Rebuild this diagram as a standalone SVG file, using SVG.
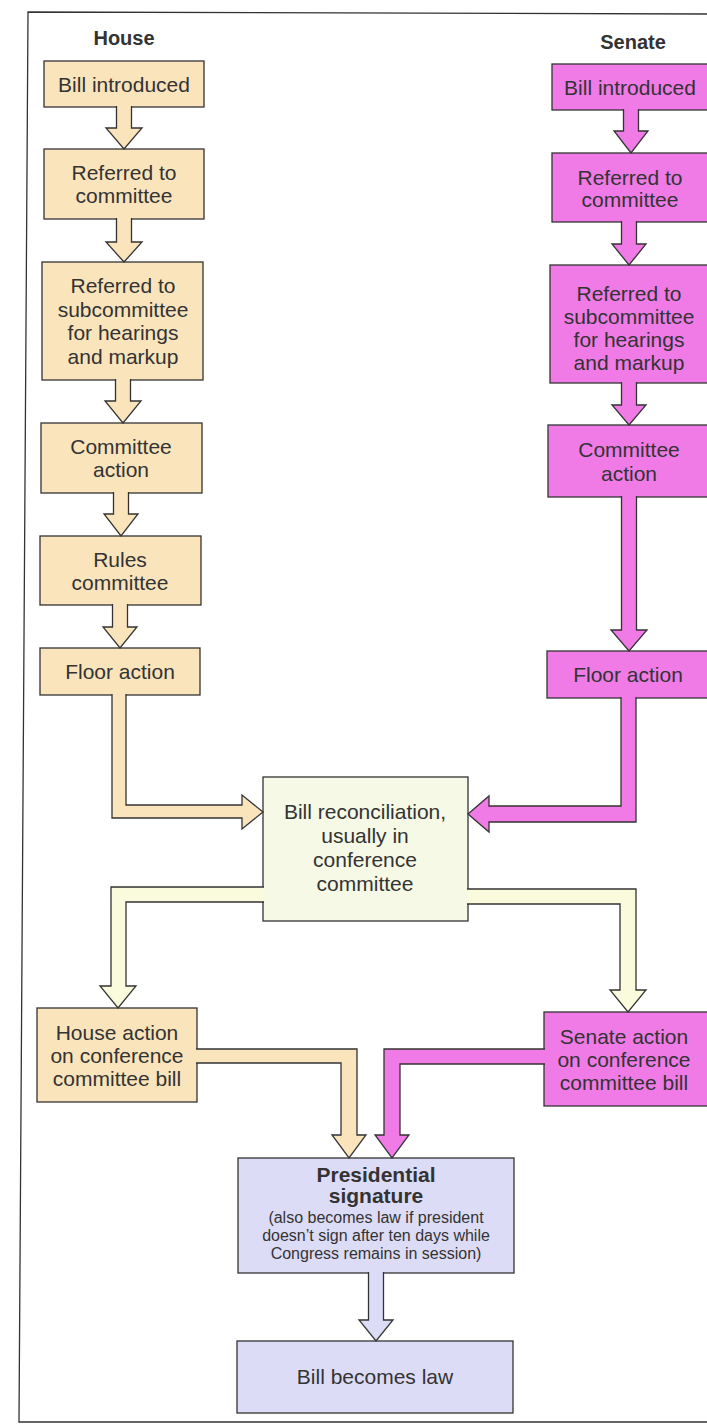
<svg xmlns="http://www.w3.org/2000/svg" width="707" height="1426" viewBox="0 0 707 1426">
<style>
  .frame{fill:none;stroke:#333;stroke-width:1.3}
  .box{stroke:#333;stroke-width:1.3}
  .house{fill:#fae4bc}
  .senate{fill:#f07be7}
  .recon{fill:#f5f9e5}
  .pres{fill:#dddcf6}
  .arr{stroke:#333;stroke-width:1.3;stroke-linejoin:miter}
  .ah{fill:#fae4bc}
  .as{fill:#f07be7}
  .ar{fill:#fafadd}
  .ap{fill:#dddcf6}
  text{font-family:"Liberation Sans",Arial,sans-serif;fill:#333;text-anchor:middle}
  .t{font-size:21px}
  .title{font-size:20px;font-weight:bold}
  .b{font-size:21px;font-weight:bold}
  .s{font-size:16px}
</style>
<rect x="0" y="0" width="707" height="1426" fill="#fff"/>
<path class="frame" d="M707,14 L28,12 L19,1422 L707,1422"/>

<g id="titles">
  <text class="title" x="124" y="45">House</text>
  <text class="title" x="633" y="49">Senate</text>
</g>

<g id="house-bill-introduced">
  <rect class="box house" x="44" y="61" width="160" height="46"/>
  <text class="t" x="124" y="92">Bill introduced</text>
</g>
<g id="house-referred-committee">
  <rect class="box house" x="44" y="149" width="160" height="70"/>
  <text class="t" x="124" y="180">Referred to</text>
  <text class="t" x="124" y="203">committee</text>
</g>
<g id="house-referred-subcommittee">
  <rect class="box house" x="42" y="262" width="161" height="118"/>
  <text class="t" x="123" y="293">Referred to</text>
  <text class="t" x="123" y="317">subcommittee</text>
  <text class="t" x="123" y="340">for hearings</text>
  <text class="t" x="123" y="364">and markup</text>
</g>
<g id="house-committee-action">
  <rect class="box house" x="41" y="423" width="161" height="70"/>
  <text class="t" x="121" y="454">Committee</text>
  <text class="t" x="121" y="477">action</text>
</g>
<g id="house-rules-committee">
  <rect class="box house" x="40" y="536" width="161" height="69"/>
  <text class="t" x="120" y="567">Rules</text>
  <text class="t" x="120" y="590">committee</text>
</g>
<g id="house-floor-action">
  <rect class="box house" x="40" y="648" width="160" height="47"/>
  <text class="t" x="120" y="679">Floor action</text>
</g>

<g id="senate-bill-introduced">
  <rect class="box senate" x="552" y="64" width="160" height="46"/>
  <text class="t" x="630" y="95">Bill introduced</text>
</g>
<g id="senate-referred-committee">
  <rect class="box senate" x="552" y="153" width="160" height="69"/>
  <text class="t" x="630" y="185">Referred to</text>
  <text class="t" x="630" y="207">committee</text>
</g>
<g id="senate-referred-subcommittee">
  <rect class="box senate" x="550" y="265" width="162" height="118"/>
  <text class="t" x="629" y="301">Referred to</text>
  <text class="t" x="629" y="324">subcommittee</text>
  <text class="t" x="629" y="347">for hearings</text>
  <text class="t" x="629" y="370">and markup</text>
</g>
<g id="senate-committee-action">
  <rect class="box senate" x="548" y="425" width="164" height="72"/>
  <text class="t" x="629" y="457">Committee</text>
  <text class="t" x="629" y="481">action</text>
</g>
<g id="senate-floor-action">
  <rect class="box senate" x="547" y="651" width="165" height="47"/>
  <text class="t" x="628" y="682">Floor action</text>
</g>

<g id="bill-reconciliation">
  <rect class="box recon" x="263" y="777" width="205" height="144"/>
  <text class="t" x="365" y="819">Bill reconciliation,</text>
  <text class="t" x="365" y="843">usually in</text>
  <text class="t" x="365" y="867">conference</text>
  <text class="t" x="365" y="891">committee</text>
</g>

<g id="house-action-conference">
  <rect class="box house" x="37" y="1008" width="160" height="94"/>
  <text class="t" x="117" y="1040">House action</text>
  <text class="t" x="117" y="1063">on conference</text>
  <text class="t" x="117" y="1086">committee bill</text>
</g>
<g id="senate-action-conference">
  <rect class="box senate" x="544" y="1012" width="168" height="94"/>
  <text class="t" x="624" y="1044">Senate action</text>
  <text class="t" x="624" y="1067">on conference</text>
  <text class="t" x="624" y="1090">committee bill</text>
</g>

<g id="presidential-signature">
  <rect class="box pres" x="238" y="1158" width="276" height="115"/>
  <text class="b" x="376" y="1182">Presidential</text>
  <text class="b" x="376" y="1203">signature</text>
  <text class="s" x="376" y="1223">(also becomes law if president</text>
  <text class="s" x="376" y="1241">doesn’t sign after ten days while</text>
  <text class="s" x="376" y="1259">Congress remains in session)</text>
</g>
<g id="bill-becomes-law">
  <rect class="box pres" x="237" y="1341" width="276" height="72"/>
  <text class="t" x="375" y="1384">Bill becomes law</text>
</g>

<g id="connectors">
  <!-- House vertical -->
  <path class="arr ah" d="M116.5,106 L116.5,128 L106,128 L124,149 L142,128 L131.5,128 L131.5,106"/>
  <path class="arr ah" d="M116.5,218 L116.5,242 L106,242 L124,262 L142,242 L131.5,242 L131.5,218"/>
  <path class="arr ah" d="M115.5,379 L115.5,401 L105,401 L123,423 L141,401 L130.5,401 L130.5,379"/>
  <path class="arr ah" d="M113.5,492 L113.5,514 L104,514 L121,536 L138,514 L128.5,514 L128.5,492"/>
  <path class="arr ah" d="M112.5,604 L112.5,627 L103,627 L120,648 L137,627 L127.5,627 L127.5,604"/>
  <!-- Senate vertical -->
  <path class="arr as" d="M623.5,109 L623.5,131 L614,131 L631,153 L648,131 L638.5,131 L638.5,109"/>
  <path class="arr as" d="M621.5,221 L621.5,244 L612,244 L629,265 L646,244 L636.5,244 L636.5,221"/>
  <path class="arr as" d="M621.5,382 L621.5,405 L612,405 L629,425 L646,405 L636.5,405 L636.5,382"/>
  <path class="arr as" d="M621.5,496 L621.5,630 L611,630 L629,651 L647,630 L636.5,630 L636.5,496"/>
  <!-- Floor actions to reconciliation -->
  <path class="arr ah" d="M112,694 L112,818 L242,818 L242,829 L263,812 L242,795 L242,805 L126,805 L126,694"/>
  <path class="arr as" d="M621,697 L621,806 L489,806 L489,796 L468,814 L489,832 L489,822 L636,822 L636,697"/>
  <!-- Reconciliation to chamber actions -->
  <path class="arr ar" d="M264,887 L111,887 L111,986 L100,986 L118,1008 L136,986 L126,986 L126,902 L264,902"/>
  <path class="arr ar" d="M467,889 L636,889 L636,990 L646,990 L628,1012 L610,990 L620,990 L620,904 L467,904"/>
  <!-- Chamber actions to presidential signature -->
  <path class="arr ah" d="M196,1049 L357,1049 L357,1135 L366,1135 L349,1158 L332,1135 L341,1135 L341,1063 L196,1063"/>
  <path class="arr as" d="M545,1049 L384,1049 L384,1135 L375,1135 L392,1158 L409,1135 L400,1135 L400,1064 L545,1064"/>
  <!-- Presidential to law -->
  <path class="arr ap" d="M368.5,1272 L368.5,1320 L359,1320 L376,1341 L393,1320 L383.5,1320 L383.5,1272"/>
</g>
</svg>
